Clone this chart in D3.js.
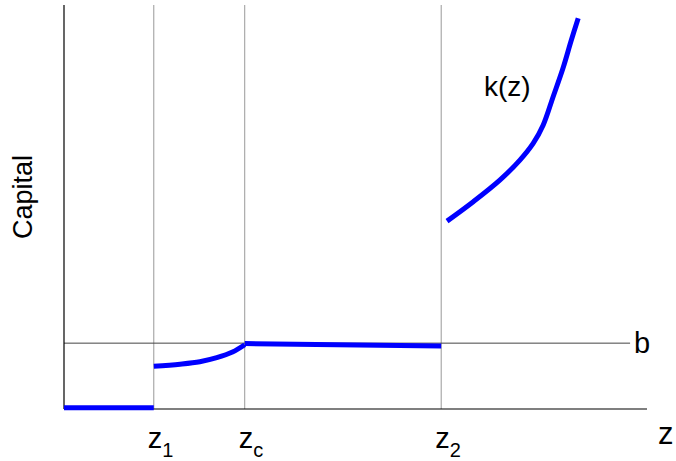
<!DOCTYPE html>
<html>
<head>
<meta charset="utf-8">
<script src="https://d3js.org/d3.v7.min.js"></script>
<style>
body { margin: 0; background: #fff; }
text { font-family: "Liberation Sans", Arial, sans-serif; fill: #000; }
</style>
</head>
<body>
<div id="Chart"></div>
<script>
var w = 676;
var h = 461;

// thresholds on the z axis and the level b
var cutNames = ["1", "c", "2"];
var cutValues = [15.4, 31.0, 64.7];
var bLevel = 16.3;

// k(z) pieces, [z, capital]
var seg1 = [[0, 0.3], [15.4, 0.3]];
var seg2 = [[15.4, 10.6], [19.9, 11.1], [23.3, 11.7], [26.2, 12.7], [28.9, 14.1], [31.0, 15.9]];
var seg3 = [[31.0, 16.2], [64.7, 15.6]];
var seg4 = [[65.7, 46.5], [70.2, 51.3], [74.8, 56.7], [78.2, 61.6], [80.5, 65.8], [82.2, 70.3],
            [83.9, 77.3], [85.6, 84.4], [87.0, 91.2], [88.2, 96.7]];

function doChart()
{
    var svg = d3.select("#Chart").append("svg")
        .attr("width", w)
        .attr("height", h)

    var xScale = d3.scaleLinear().domain([0, 100]).range([64, 647]);
    var yScale = d3.scaleLinear().domain([0, 100]).range([409, 5]);

    // vertical guides
    svg.selectAll("line.cut")
        .data(cutValues)
        .enter()
        .append("line")
        .attr("class", "cut")
        .attr("x1", d => xScale(d))
        .attr("x2", d => xScale(d))
        .attr("y1", yScale(100))
        .attr("y2", yScale(0))
        .attr("stroke", "#999")
        .attr("stroke-width", 1)

    // b line
    svg.append("line")
        .attr("x1", xScale(0))
        .attr("x2", xScale(97.1))
        .attr("y1", yScale(bLevel))
        .attr("y2", yScale(bLevel))
        .attr("stroke", "#444")
        .attr("stroke-width", 1)

    svg.append("text")
        .text("b")
        .attr("x", xScale(97.1) + 4)
        .attr("y", yScale(bLevel) + 10)
        .style("font-size", "29px")

    // axes
    svg.append("line")
        .attr("x1", xScale(0)).attr("x2", xScale(0))
        .attr("y1", yScale(100)).attr("y2", yScale(0))
        .attr("stroke", "#000").attr("stroke-width", 1.2)
    svg.append("line")
        .attr("x1", xScale(0)).attr("x2", xScale(100))
        .attr("y1", yScale(0)).attr("y2", yScale(0))
        .attr("stroke", "#000").attr("stroke-width", 1.2)

    var line = d3.line()
        .x(d => xScale(d[0]))
        .y(d => yScale(d[1]))
        .curve(d3.curveCatmullRom);

    svg.selectAll("path.k")
        .data([seg1, seg2, seg3, seg4])
        .enter()
        .append("path")
        .attr("class", "k")
        .attr("d", line)
        .attr("fill", "none")
        .attr("stroke", "#0000ff")
        .attr("stroke-width", 5)

    // z labels with subscripts
    var lab = svg.selectAll("text.z")
        .data(cutValues)
        .enter()
        .append("text")
        .attr("class", "z")
        .attr("x", d => xScale(d) - 6)
        .attr("y", 448)
        .style("font-size", "29px")
    lab.append("tspan").text("z")
    lab.append("tspan")
        .text((d, i) => cutNames[i])
        .attr("dy", 9)
        .style("font-size", "20px")

    svg.append("text")
        .text("z")
        .attr("x", 658)
        .attr("y", 444)
        .style("font-size", "31px")

    svg.append("text")
        .text("k(z)")
        .attr("x", 484)
        .attr("y", 96)
        .style("font-size", "28px")

    svg.append("text")
        .text("Capital")
        .attr("transform", "translate(32,197) rotate(-90)")
        .attr("text-anchor", "middle")
        .style("font-size", "27px")
}

doChart();
</script>
</body>
</html>
